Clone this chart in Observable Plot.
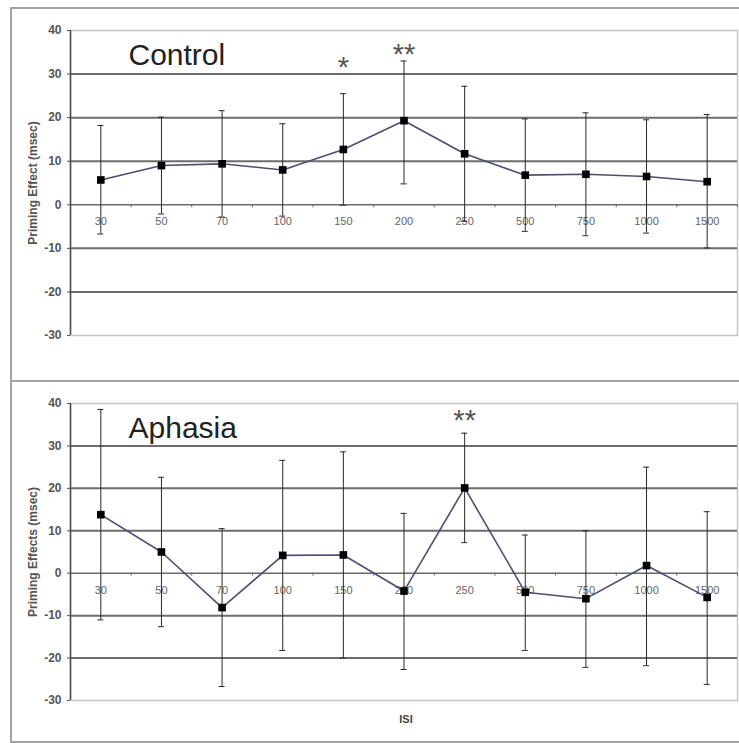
<!DOCTYPE html>
<html><head><meta charset="utf-8">
<script src="https://cdn.jsdelivr.net/npm/d3@7"></script>
<script src="https://cdn.jsdelivr.net/npm/@observablehq/plot@0.6"></script>
<style>
html,body{margin:0;padding:0;background:#fff;overflow:hidden;}
#wrap{position:relative;width:739px;height:743px;overflow:hidden;font-family:"Liberation Sans",Arial,sans-serif;}
.box{position:absolute;left:10px;width:745px;border:2px solid #a3a3a3;box-sizing:border-box;}
.panel{position:absolute;left:0;}
</style></head><body>
<div id="wrap">
  <div class="box" style="top:7px;height:375px"></div>
  <div class="box" style="top:380px;height:363px"></div>
  <div class="panel" id="p1" style="top:0px"></div>
  <div class="panel" id="p2" style="top:380px"></div>
</div>
<script>
// Categories (ISI, msec)
const isi = ["30","50","70","100","150","200","250","500","750","1000","1500"];
const yTicks = [-30,-20,-10,0,10,20,30,40];
const gridVals = [-20,-10,10,20,30];

// Control group
const controlMean = [5.7, 9.0, 9.4, 8.0, 12.7, 19.3, 11.7, 6.8, 7.0, 6.5, 5.3];
const controlHi   = [18.2, 20.1, 21.6, 18.6, 25.5, 33.0, 27.2, 19.7, 21.1, 19.5, 20.7];
const controlLo   = [-6.7, -2.1, -2.8, -2.6, -0.1, 4.8, -3.8, -6.1, -7.1, -6.5, -9.9];
const controlStarIsi = ["150", "200"];
const controlStarText = ["*", "**"];
const controlStarY = [31.9, 34.9];

// Aphasia group
const aphasiaMean = [13.8, 5.0, -8.1, 4.2, 4.3, -4.2, 20.1, -4.5, -6.0, 1.8, -5.7];
const aphasiaHi   = [38.6, 22.6, 10.5, 26.6, 28.6, 14.1, 33.0, 9.0, 10.0, 25.0, 14.5];
const aphasiaLo   = [-11.0, -12.6, -26.7, -18.2, -20.0, -22.7, 7.2, -18.2, -22.2, -21.8, -26.2];
const aphasiaStarIsi = ["250"];
const aphasiaStarText = ["**"];
const aphasiaStarY = [36.5];

const FONT = '"Liberation Sans", Arial, sans-serif';

function panel({title, mean, lo, hi, starIsi, starText, starY, ylabel, xlabel, height, marginTop, marginBottom}) {
  const data = isi.map((c, k) => ({c, i: k + 0.5, mean: mean[k], lo: lo[k], hi: hi[k]}));
  const stars = starIsi.map((c, k) => ({i: isi.indexOf(c) + 0.5, y: starY[k], t: starText[k]}));
  const marks = [
    Plot.frame({stroke: "#c6c6c6", strokeWidth: 1.5}),
    Plot.ruleY(gridVals, {stroke: "#6c6c6c", strokeWidth: 2}),
    Plot.ruleY([0], {stroke: "#6a6a6a", strokeWidth: 1.5}),
    Plot.ruleX(d3.range(isi.length + 1), {x: d => d, y1: 0, y2: 0, insetBottom: -3, stroke: "#666"}),
    Plot.text(data, {x: "i", y: 0, text: "c", dy: 17, fill: "#666", fontSize: 11, lineAnchor: "middle"}),
    Plot.axisY({ticks: yTicks, tickFormat: d => String(d), tickSize: 3, tickPadding: 6, color: "#555", fontSize: 12, fontWeight: "bold",
      label: ylabel, labelAnchor: "center", labelOffset: 42, labelArrow: "none"}),
    Plot.ruleX([0], {stroke: "#4a4a4a", strokeWidth: 1.5}),
    Plot.ruleX(data, {x: "i", y1: "lo", y2: "hi", stroke: "#2a2a2a", strokeWidth: 1}),
    Plot.ruleY(data, {x1: "i", x2: "i", y: "hi", insetLeft: -3, insetRight: -3, stroke: "#2a2a2a"}),
    Plot.ruleY(data, {x1: "i", x2: "i", y: "lo", insetLeft: -3, insetRight: -3, stroke: "#2a2a2a"}),
    Plot.line(data, {x: "i", y: "mean", stroke: "#4d4d75", strokeWidth: 1.6}),
    Plot.dot(data, {x: "i", y: "mean", symbol: "square", r: 4.3, fill: "#000", stroke: "none"}),
    Plot.text(stars, {x: "i", y: "y", text: "t", fontSize: 29, fill: "#555", lineAnchor: "middle", dy: 2}),
    Plot.text([title], {frameAnchor: "top-left", textAnchor: "start", lineAnchor: "top", dx: 58, dy: 13, fontSize: 30, fill: "#222"})
  ];
  if (xlabel) marks.push(Plot.text([xlabel], {frameAnchor: "bottom", lineAnchor: "middle", dy: 19, dx: 2, fontSize: 11, fontWeight: "bold", fill: "#444"}));
  return Plot.plot({
    width: 739, height, marginLeft: 70, marginRight: 2, marginTop, marginBottom,
    style: {fontFamily: FONT, background: "transparent", overflow: "visible", color: "#555"},
    x: {type: "linear", domain: [0, isi.length], axis: null},
    y: {domain: [-30, 40], axis: null},
    marks
  });
}

document.getElementById("p1").append(panel({
  title: "Control", mean: controlMean, lo: controlLo, hi: controlHi,
  starIsi: controlStarIsi, starText: controlStarText, starY: controlStarY,
  ylabel: "Priming Effect (msec)", xlabel: null, height: 380, marginTop: 30, marginBottom: 45
}));
document.getElementById("p2").append(panel({
  title: "Aphasia", mean: aphasiaMean, lo: aphasiaLo, hi: aphasiaHi,
  starIsi: aphasiaStarIsi, starText: aphasiaStarText, starY: aphasiaStarY,
  ylabel: "Priming Effects (msec)", xlabel: "ISI", height: 363, marginTop: 23, marginBottom: 43
}));
</script>
</body></html>
